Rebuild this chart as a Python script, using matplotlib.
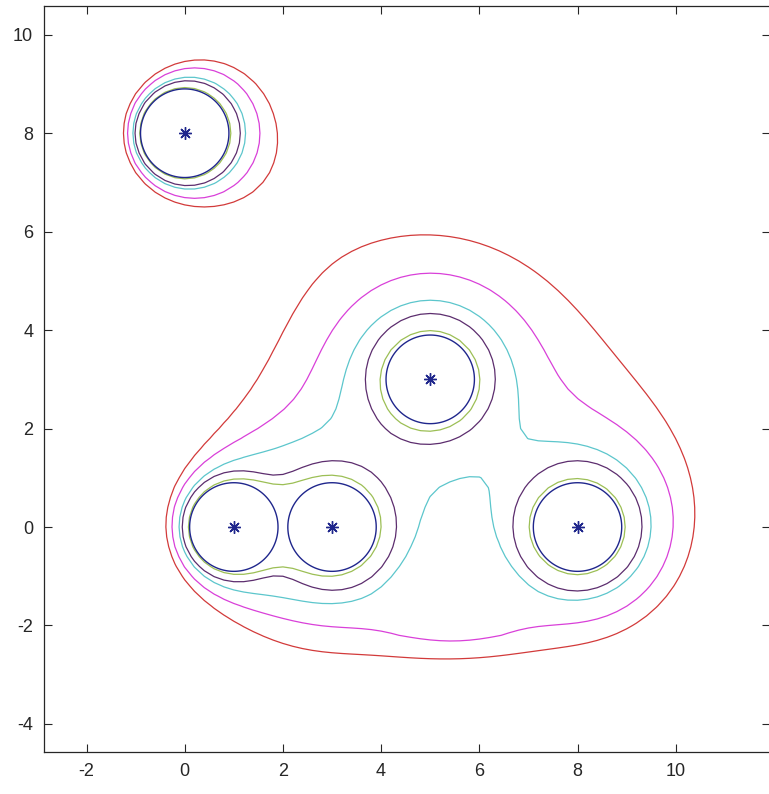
import numpy as np
import matplotlib
matplotlib.use("Agg")
import matplotlib.pyplot as plt

plt.rcParams['font.family'] = ['Liberation Sans', 'DejaVu Sans']
plt.rcParams['axes.unicode_minus'] = False

# source points (stars) and starting radius of each front
cx = [0, 1, 3, 5, 8]
cy = [8, 0, 0, 3, 0]
r0 = 0.9
gain = [0.56, 0.7, 1.0, 0.85, 1.0]

# front "times", how much neighbouring fronts blend, and colours
levels = [0.07, 0.42, 0.6, 1.05, 1.42]
blend = [0.7, 0.45, 0.9, 1.0, 1.4]
level_colors = ['#9cbf55', '#5c2d6e', '#5cc6cc', '#d940d9', '#d23a3a']
navy = '#1f268c'

xticks = [-2, 0, 2, 4, 6, 8, 10]
yticks = [-4, -2, 0, 2, 4, 6, 8, 10]


def speed(x, y):
    base = 0.2 + 0.8 / (1 + np.exp(-(x - 0.3) / 1.0))
    lift = 0.9 + 0.4 / (1 + np.exp(-(y - 2.0) / 1.5))
    # fronts fill the gap under the cluster quickly
    gap = 1 + 0.65 * np.exp(-((x - 5.5) / 1.5) ** 2 - ((y + 2.0) / 0.6) ** 2)
    return base * lift * gap


def arrival(X, Y, L):
    v = speed(X, Y)
    acc = np.zeros_like(X)
    for xi, yi, g in zip(cx, cy, gain):
        r = np.hypot(X - xi, Y - yi)
        t = (r - r0) / (g * v)
        acc += np.exp(-t / L)
    return -L * np.log(acc)


fig = plt.figure(figsize=(7.69, 7.94), dpi=100)
ax = fig.add_axes([0.0576, 0.0529, 0.9437, 0.9399])

# coarse grid for the fronts
xs = np.arange(-3.0, 12.5, 0.2)
ys = np.arange(-4.8, 10.8, 0.2)
X, Y = np.meshgrid(xs, ys)
for lev, L, col in zip(levels, blend, level_colors):
    T = arrival(X, Y, L)
    ax.contour(X, Y, T, levels=[lev], colors=[col], linewidths=0.9)

# initial circles on a fine grid
xf = np.arange(-3.0, 12.5, 0.02)
yf = np.arange(-4.8, 10.8, 0.02)
XF, YF = np.meshgrid(xf, yf)
D = np.min([np.hypot(XF - xi, YF - yi) for xi, yi in zip(cx, cy)], axis=0)
ax.contour(XF, YF, D, levels=[r0], colors=[navy], linewidths=1.0)

ax.plot(cx, cy, linestyle='none', marker=(8, 2, 0), markersize=9,
        color=navy, markeredgewidth=1.0)

ax.set_xlim(-2.86, 11.92)
ax.set_ylim(-4.57, 10.59)
ax.set_xticks(xticks)
ax.set_yticks(yticks)
ax.tick_params(direction='in', top=True, right=True, length=6, width=0.8,
               labelsize=13, colors='#262626', pad=8)
for s in ax.spines.values():
    s.set_linewidth(0.9)
    s.set_color('#262626')

fig.savefig('out.png', dpi=100)
